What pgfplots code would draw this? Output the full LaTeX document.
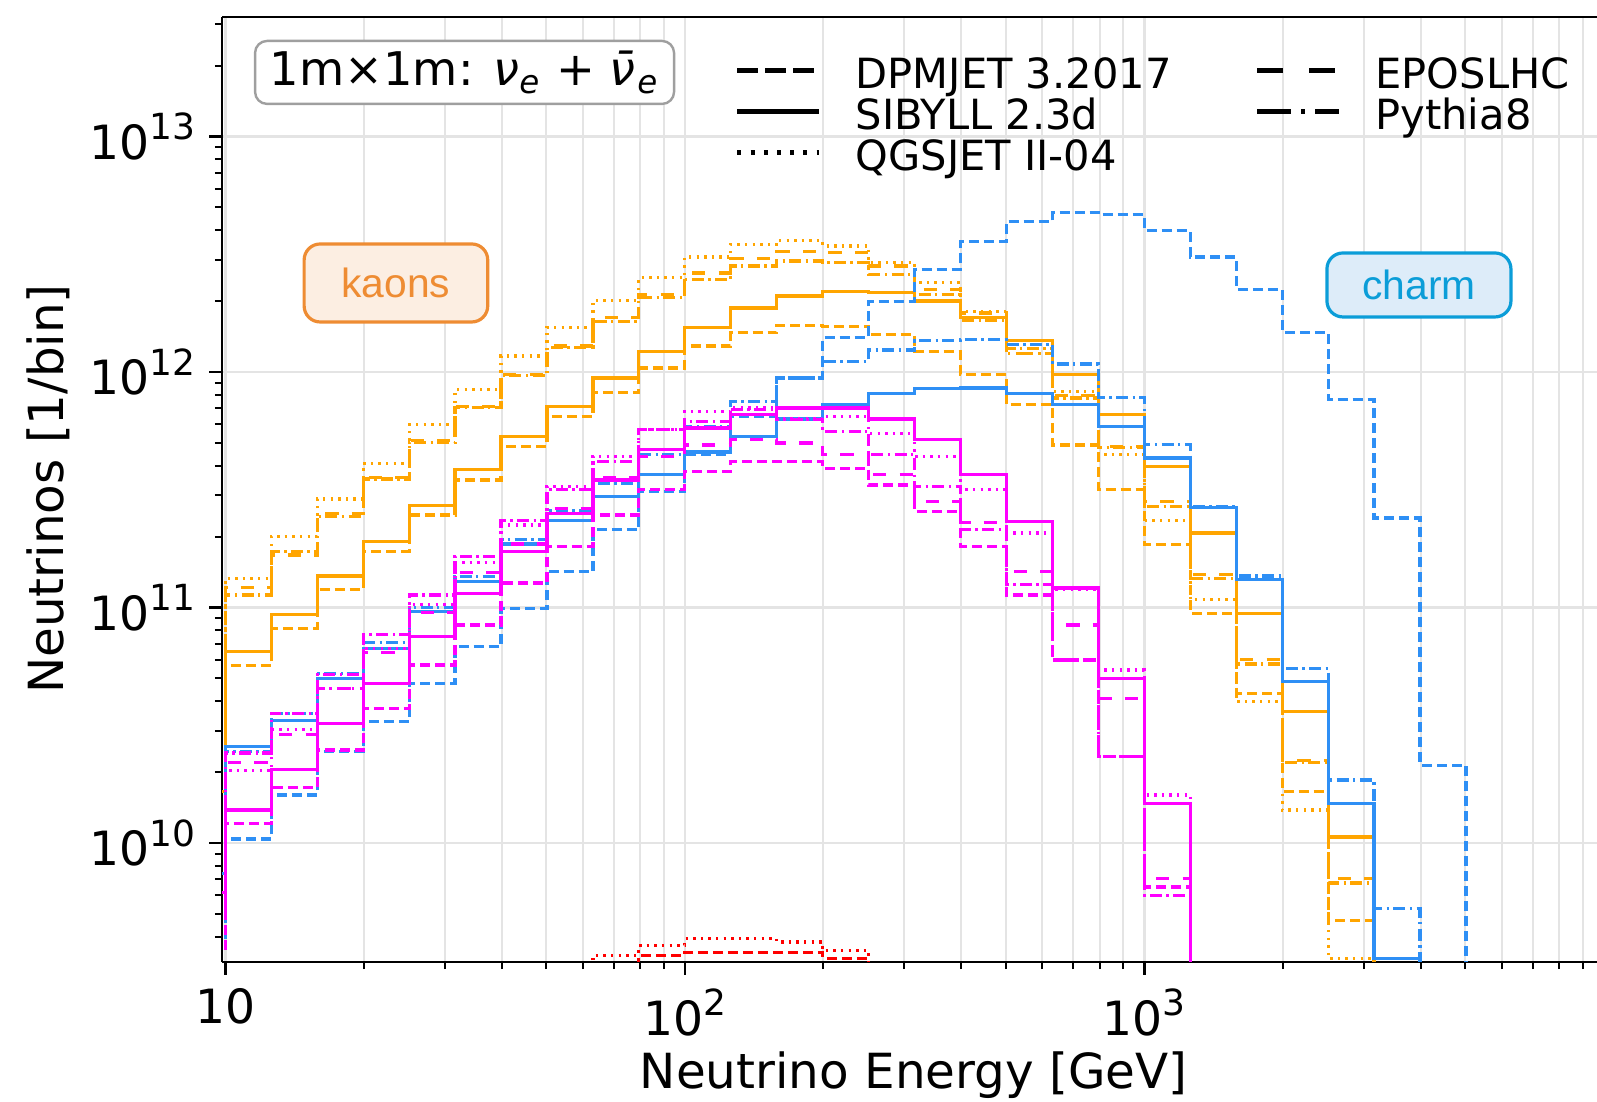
\documentclass[border=0pt]{standalone}
\usepackage{pgfplots}
\pgfplotsset{compat=1.18}
\usepackage{pgfplotstable}
\usepackage{fontspec}
\setmainfont{DejaVu Sans}
\newfontfamily\annfont{Liberation Sans}
\definecolor{kor}{HTML}{FFA500}
\definecolor{cbl}{HTML}{2E8FF5}
\definecolor{mgn}{HTML}{FF00FF}
\definecolor{rdd}{HTML}{FF0000}
\definecolor{kbox}{HTML}{FCEEE2}
\definecolor{kedge}{HTML}{EE8C33}
\definecolor{cbox}{HTML}{DDECF9}
\definecolor{cedge}{HTML}{0B9DD8}
\definecolor{gridc}{HTML}{E4E4E4}
\newcommand{\sps}[1]{\raisebox{0.42em}{\fontsize{9}{10}\selectfont #1}}

\pgfplotstableread{
x KD KS KQ KE KP CD CS CP MD MS MQ ME MP RD RQ
7.943 1.20e10 1.66e10 3.09e10 2.82e10 2.70e10 3.98e9 7.41e9 7.20e9 3.55e9 6.17e9 4.79e9 4.47e9 5.62e9 1e9 1e9
10 5.66e10 6.50e10 1.33e11 1.22e11 1.13e11 1.04e10 2.56e10 2.44e10 1.21e10 1.38e10 2.03e10 2.19e10 2.41e10 1e9 1e9
12.589 8.17e10 9.31e10 2.00e11 1.67e11 1.73e11 1.60e10 3.31e10 3.56e10 1.72e10 2.05e10 3.03e10 2.88e10 3.56e10 1e9 1e9
15.849 1.19e11 1.36e11 2.89e11 2.51e11 2.44e11 2.44e10 5.01e10 5.25e10 2.48e10 3.22e10 4.54e10 4.54e10 5.18e10 1e9 1e9
19.953 1.73e11 1.91e11 4.10e11 3.55e11 3.51e11 3.27e10 6.71e10 7.08e10 3.73e10 4.76e10 6.71e10 6.46e10 7.66e10 1e9 1e9
25.119 2.47e11 2.72e11 5.97e11 5.13e11 5.01e11 4.76e10 9.62e10 1.00e11 5.70e10 7.53e10 1.03e11 9.55e10 1.13e11 1e9 1e9
31.623 3.48e11 3.84e11 8.41e11 7.16e11 7.08e11 6.82e10 1.29e11 1.35e11 8.43e10 1.15e11 1.55e11 1.41e11 1.65e11 1e9 1e9
39.811 4.83e11 5.32e11 1.17e12 9.77e11 9.66e11 9.93e10 1.86e11 1.95e11 1.27e11 1.73e11 2.24e11 1.86e11 2.34e11 1e9 1e9
50.119 6.47e11 7.14e11 1.55e12 1.29e12 1.27e12 1.42e11 2.34e11 2.57e11 1.82e11 2.51e11 3.26e11 2.63e11 3.16e11 1e9 3.0e9
63.096 8.15e11 9.42e11 2.01e12 1.70e12 1.64e12 2.14e11 2.96e11 3.37e11 2.47e11 3.48e11 4.38e11 3.55e11 4.17e11 3.0e9 3.33e9
79.433 1.04e12 1.22e12 2.51e12 2.14e12 2.07e12 3.10e11 3.68e11 4.45e11 3.16e11 4.68e11 5.69e11 4.37e11 5.69e11 3.33e9 3.67e9
100 1.29e12 1.55e12 3.08e12 2.63e12 2.47e12 4.47e11 4.57e11 5.87e11 3.78e11 5.78e11 6.81e11 4.90e11 6.17e11 3.44e9 3.92e9
125.89 1.47e12 1.87e12 3.48e12 3.03e12 2.82e12 6.46e11 5.32e11 7.50e11 4.17e11 6.58e11 7.03e11 5.15e11 6.92e11 3.44e9 3.92e9
158.49 1.58e12 2.10e12 3.62e12 3.24e12 2.96e12 9.42e11 6.31e11 9.42e11 4.17e11 7.03e11 6.31e11 4.99e11 6.27e11 3.44e9 3.80e9
199.53 1.56e12 2.20e12 3.43e12 3.21e12 2.91e12 1.40e12 7.26e11 1.11e12 3.90e11 7.03e11 6.47e11 4.45e11 5.60e11 3.24e9 3.49e9
251.19 1.44e12 2.17e12 2.91e12 2.82e12 2.59e12 1.99e12 8.13e11 1.24e12 3.31e11 6.31e11 5.50e11 3.66e11 4.45e11 1e9 1e9
316.23 1.22e12 2.00e12 2.40e12 2.24e12 2.14e12 2.72e12 8.49e11 1.36e12 2.56e11 5.15e11 4.38e11 2.82e11 3.26e11 1e9 1e9
398.11 9.75e11 1.70e12 1.80e12 1.78e12 1.66e12 3.57e12 8.55e11 1.37e12 1.82e11 3.68e11 3.16e11 2.29e11 2.14e11 1e9 1e9
501.19 7.26e11 1.36e12 1.20e12 1.20e12 1.26e12 4.35e12 8.13e11 1.31e12 1.13e11 2.32e11 2.07e11 1.42e11 1.25e11 1e9 1e9
630.96 4.90e11 9.77e11 8.28e11 7.94e11 7.76e11 4.75e12 7.26e11 1.08e12 5.98e10 1.21e11 1.19e11 8.43e10 5.98e10 1e9 1e9
794.33 3.16e11 6.62e11 4.45e11 4.83e11 4.79e11 4.65e12 5.87e11 7.80e11 2.32e10 5.01e10 5.43e10 4.11e10 2.32e10 1e9 1e9
1000 1.85e11 3.98e11 2.34e11 2.82e11 2.69e11 3.98e12 4.31e11 4.91e11 6.50e9 1.47e10 1.60e10 7.08e9 5.98e9 1e9 1e9
1258.9 9.46e10 2.07e11 1.08e11 1.38e11 1.33e11 3.08e12 2.65e11 2.69e11 1e9 1e9 1e9 1e9 1e9 1e9 1e9
1584.9 4.32e10 9.46e10 3.98e10 6.03e10 5.75e10 2.24e12 1.31e11 1.36e11 1e9 1e9 1e9 1e9 1e9 1e9 1e9
1995.3 1.65e10 3.61e10 1.38e10 2.24e10 2.19e10 1.47e12 4.84e10 5.52e10 1e9 1e9 1e9 1e9 1e9 1e9 1e9
2511.9 4.69e9 1.06e10 3.24e9 7.08e9 6.76e9 7.62e11 1.47e10 1.85e10 1e9 1e9 1e9 1e9 1e9 1e9 1e9
3162.3 1e9 1e9 1e9 1e9 1e9 2.40e11 3.24e9 5.25e9 1e9 1e9 1e9 1e9 1e9 1e9 1e9
3981.1 1e9 1e9 1e9 1e9 1e9 2.14e10 1e9 1e9 1e9 1e9 1e9 1e9 1e9 1e9 1e9
5011.9 1e9 1e9 1e9 1e9 1e9 1e9 1e9 1e9 1e9 1e9 1e9 1e9 1e9 1e9 1e9
6309.6 1e9 1e9 1e9 1e9 1e9 1e9 1e9 1e9 1e9 1e9 1e9 1e9 1e9 1e9 1e9
}\datatab

\tikzset{
  dpm/.style={dash pattern=on 2.5pt off 1.25pt},
  epo/.style={dash pattern=on 3.3pt off 3.3pt},
  pyt/.style={dash pattern=on 3pt off 1.1pt on 0.6pt off 1.1pt},
  qgs/.style={dash pattern=on 0.6pt off 1.3pt},
  sib/.style={solid},
}

\begin{document}
\begin{tikzpicture}
\useasboundingbox (-55.5pt,-35pt) rectangle (343.75pt,240.5pt);
\begin{axis}[
  at={(0pt,0pt)}, anchor=south west,
  scale only axis, width=343.75pt, height=236.25pt,
  xmode=log, ymode=log,
  xmin=9.836, xmax=9666, ymin=3.124e9, ymax=3.217e13,
  separate axis lines, axis y line*=left, axis x line*=box,
  axis line style={line width=0.6pt, black},
  tick align=outside, tick pos=left,
  major tick length=3.2pt, minor tick length=1.8pt,
  major tick style={line width=0.6pt, black},
  minor tick style={line width=0.5pt, black},
  xtick={10,100,1000},
  xticklabels={10, 10\sps{2}, 10\sps{3}},
  minor xtick={20,30,40,50,60,70,80,90,200,300,400,500,600,700,800,900,2000,3000,4000,5000,6000,7000,8000,9000},
  ytick={1e10,1e11,1e12,1e13},
  yticklabels={10\sps{10},10\sps{11},10\sps{12},10\sps{13}},
  minor ytick={4e9,5e9,6e9,7e9,8e9,9e9,2e10,3e10,4e10,5e10,6e10,7e10,8e10,9e10,2e11,3e11,4e11,5e11,6e11,7e11,8e11,9e11,2e12,3e12,4e12,5e12,6e12,7e12,8e12,9e12,2e13,3e13},
  ticklabel style={font=\fontsize{11.8}{13}\selectfont},
  xmajorgrids, ymajorgrids, xminorgrids,
  major grid style={gridc, line width=0.6pt},
  minor grid style={gridc, line width=0.5pt},
  xlabel={Neutrino Energy [GeV]},
  ylabel={Neutrinos [1/bin]},
  every axis x label/.style={at={(axis description cs:0.503,-0.1196)}, anchor=center, font=\fontsize{12.1}{14}\selectfont},
  every axis y label/.style={at={(axis description cs:-0.1265,0.5005)}, anchor=center, rotate=90, font=\fontsize{12.1}{14}\selectfont},
  legend columns=2,
  legend cell align=left,
  legend image code/.code={\draw[#1] (0pt,1.8pt) -- (20.5pt,1.8pt);},
  legend style={at={(axis description cs:0.3731,0.9577)}, anchor=north west,
    draw=none, fill=none, inner sep=0pt, outer sep=0pt,
    font=\fontsize{10.4}{12}\selectfont, row sep=0pt,
    nodes={inner xsep=0pt, inner ysep=0pt, text height=7.9pt, text depth=2.35pt},
    /tikz/column 1/.style={column sep=8.5pt},
    /tikz/column 2/.style={column sep=20.8pt},
    /tikz/column 3/.style={column sep=8.5pt}},
]
% kaons (orange)
\addplot[const plot mark left, kor, line width=0.8pt, dpm, forget plot] table[x=x,y=KD]{\datatab};
\addplot[const plot mark left, kor, line width=0.8pt, sib, forget plot] table[x=x,y=KS]{\datatab};
\addplot[const plot mark left, kor, line width=0.8pt, qgs, forget plot] table[x=x,y=KQ]{\datatab};
\addplot[const plot mark left, kor, line width=0.8pt, epo, forget plot] table[x=x,y=KE]{\datatab};
\addplot[const plot mark left, kor, line width=0.8pt, pyt, forget plot] table[x=x,y=KP]{\datatab};
% charm (blue)
\addplot[const plot mark left, cbl, line width=0.8pt, dpm, forget plot] table[x=x,y=CD]{\datatab};
\addplot[const plot mark left, cbl, line width=0.8pt, sib, forget plot] table[x=x,y=CS]{\datatab};
\addplot[const plot mark left, cbl, line width=0.8pt, pyt, forget plot] table[x=x,y=CP]{\datatab};
% magenta
\addplot[const plot mark left, mgn, line width=0.8pt, dpm, forget plot] table[x=x,y=MD]{\datatab};
\addplot[const plot mark left, mgn, line width=0.8pt, sib, forget plot] table[x=x,y=MS]{\datatab};
\addplot[const plot mark left, mgn, line width=0.8pt, qgs, forget plot] table[x=x,y=MQ]{\datatab};
\addplot[const plot mark left, mgn, line width=0.8pt, epo, forget plot] table[x=x,y=ME]{\datatab};
\addplot[const plot mark left, mgn, line width=0.8pt, pyt, forget plot] table[x=x,y=MP]{\datatab};
% red
\addplot[const plot mark left, rdd, line width=0.8pt, dpm, forget plot] table[x=x,y=RD]{\datatab};
\addplot[const plot mark left, rdd, line width=0.8pt, qgs, forget plot] table[x=x,y=RQ]{\datatab};
% legend
\addlegendimage{black, line width=1.2pt, dash pattern=on 5.2pt off 1.8pt}
\addlegendentry{DPMJET 3.2017}
\addlegendimage{black, line width=1.2pt, dash pattern=on 6.5pt off 6.5pt}
\addlegendentry{EPOSLHC}
\addlegendimage{black, line width=1.2pt}
\addlegendentry{SIBYLL 2.3d}
\addlegendimage{black, line width=1.2pt, dash pattern=on 8.5pt off 2.5pt on 1pt off 2.5pt}
\addlegendentry{Pythia8}
\addlegendimage{black, line width=1.2pt, dash pattern=on 1pt off 2.3pt}
\addlegendentry{QGSJET II-04}
% annotations
\node[draw=gray!75, fill=white, rounded corners=3pt, line width=0.6pt, minimum width=104.75pt, minimum height=15.75pt, inner sep=0pt, font=\fontsize{11.6}{13}\selectfont] at (axis description cs:0.1764,0.9413) {1m×1m: \textit{ν}\textsubscript{\textit{e}} + \textit{ν̄}\textsubscript{\textit{e}}};
\node[draw=kedge, fill=kbox, rounded corners=4pt, line width=0.8pt, minimum width=45.9pt, minimum height=19.5pt, inner sep=0pt, text=kedge, font=\annfont\fontsize{10.2}{12}\selectfont] at (axis description cs:0.1265,0.7185) {kaons};
\node[draw=cedge, fill=cbox, rounded corners=4pt, line width=0.8pt, minimum width=46pt, minimum height=16pt, inner sep=0pt, text=cedge, font=\annfont\fontsize{10.2}{12}\selectfont] at (axis description cs:0.8705,0.7164) {charm};
\end{axis}
\end{tikzpicture}
\end{document}
